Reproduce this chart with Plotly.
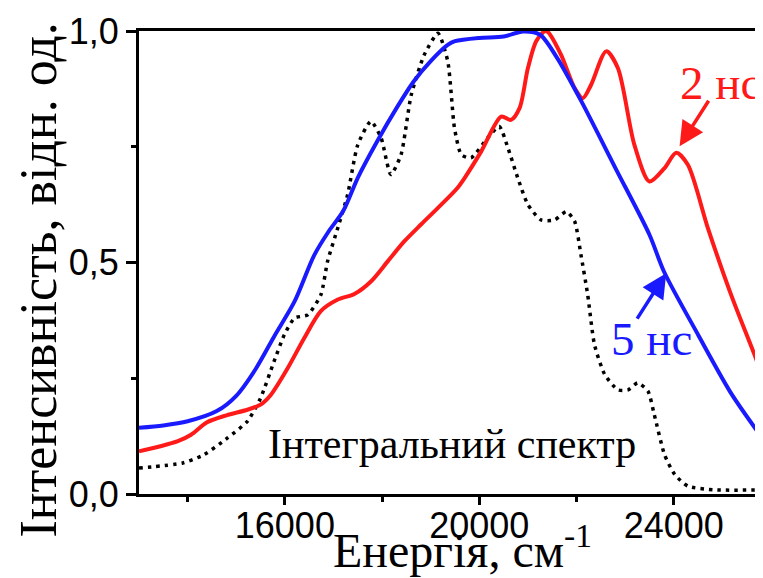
import plotly.graph_objects as go

# ---- data ----
x_5ns = [13000, 13500, 14000, 14600, 15000, 15400, 15800, 16200, 16600, 16900, 17200, 17500,
         17900, 18300, 18650, 19000, 19350, 19500, 20000, 20500, 20900, 21250, 21600, 22100,
         22800, 23500, 23800, 24500, 25200, 26000]
y_5ns = [0.143, 0.148, 0.157, 0.179, 0.212, 0.270, 0.344, 0.416, 0.515, 0.567, 0.611, 0.683,
         0.762, 0.834, 0.891, 0.935, 0.970, 0.978, 0.985, 0.988, 0.999, 0.992, 0.942, 0.848,
         0.704, 0.560, 0.480, 0.344, 0.214, 0.095]

x_2ns = [13000, 13400, 13800, 14070, 14400, 14800, 15230, 15500, 15710, 16060, 16400, 16740,
         17090, 17430, 17770, 18120, 18460, 18800, 19150, 19550, 19700, 20040, 20450, 20650,
         20830, 21000, 21170, 21350, 21410, 21680, 21960, 22130, 22300, 22610, 22850, 23190,
         23500, 23810, 24050, 24290, 24700, 25180, 25660, 26000]
y_2ns = [0.092, 0.102, 0.114, 0.128, 0.155, 0.170, 0.182, 0.193, 0.214, 0.272, 0.337, 0.395,
         0.420, 0.432, 0.459, 0.503, 0.546, 0.582, 0.618, 0.661, 0.683, 0.740, 0.815, 0.808,
         0.834, 0.920, 0.978, 1.000, 0.998, 0.949, 0.877, 0.855, 0.884, 0.956, 0.920, 0.754,
         0.675, 0.704, 0.737, 0.711, 0.575, 0.430, 0.301, 0.207]

x_int = [13000, 13900, 14340, 14820, 15230, 15500, 15780, 15990, 16200, 16470, 16740, 16880,
         17090, 17290, 17500, 17770, 17980, 18180, 18390, 18600, 18870, 19150, 19350, 19490,
         19630, 19830, 20170, 20410, 20590, 20790, 21000, 21270, 21550, 21790, 21960, 22090,
         22230, 22370, 22580, 22850, 23060, 23260, 23470, 23600, 23810, 24020, 24290, 24840,
         26000]
y_int = [0.056, 0.067, 0.085, 0.121, 0.157, 0.207, 0.287, 0.344, 0.380, 0.387, 0.430, 0.503,
         0.575, 0.646, 0.754, 0.805, 0.769, 0.690, 0.733, 0.862, 0.949, 0.995, 0.935, 0.790,
         0.733, 0.726, 0.769, 0.794, 0.747, 0.683, 0.625, 0.592, 0.592, 0.610, 0.589, 0.517,
         0.430, 0.322, 0.258, 0.225, 0.225, 0.240, 0.222, 0.171, 0.085, 0.042, 0.017, 0.009,
         0.009]

x_ticks = [16000, 20000, 24000]
x_ticktext = ["16000", "20000", "24000"]
x_minor = [14000, 18000, 22000]
y_ticks = [0.0, 0.5, 1.0]
y_ticktext = ["0,0", "0,5", "1,0"]
y_minor = [0.25, 0.75]

RED = "#ff1a1a"
BLUE = "#1a1aff"
SERIF = "Liberation Serif, Times New Roman, serif"
SANS = "Liberation Sans, Arial, sans-serif"

fig = go.Figure()
fig.add_trace(go.Scatter(x=x_int, y=y_int, mode="lines",
                         line=dict(color="black", width=3.5, dash="3.5px,5px", shape="spline", smoothing=0.6),
                         showlegend=False, hoverinfo="skip"))
fig.add_trace(go.Scatter(x=x_2ns, y=y_2ns, mode="lines",
                         line=dict(color=RED, width=4, shape="spline", smoothing=0.8),
                         showlegend=False, hoverinfo="skip"))
fig.add_trace(go.Scatter(x=x_5ns, y=y_5ns, mode="lines",
                         line=dict(color=BLUE, width=4, shape="spline", smoothing=0.8),
                         showlegend=False, hoverinfo="skip"))

fig.update_layout(
    width=763, height=578,
    margin=dict(l=131, r=0, t=23, b=92),
    paper_bgcolor="white", plot_bgcolor="white",
    showlegend=False,
)
fig.update_xaxes(
    range=[13000, 26000], showgrid=False, zeroline=False,
    showline=True, linecolor="black", linewidth=3, mirror=True,
    ticks="outside", ticklen=8, tickwidth=2.5, tickcolor="black",
    tickmode="array", tickvals=x_ticks, ticktext=x_ticktext,
    tickfont=dict(family=SANS, size=36, color="black"),
    ticklabelstandoff=-10,
    minor=dict(tickmode="array", tickvals=x_minor, ticks="outside", ticklen=5, tickwidth=2.5, tickcolor="black"),
)
fig.update_yaxes(
    range=[0, 1.0], showgrid=False, zeroline=False,
    showline=True, linecolor="black", linewidth=3, mirror=False,
    ticks="outside", ticklen=10, tickwidth=2.5, tickcolor="black",
    tickmode="array", tickvals=y_ticks, ticktext=y_ticktext,
    tickfont=dict(family=SANS, size=36, color="black"),
    minor=dict(tickmode="array", tickvals=y_minor, ticks="outside", ticklen=5, tickwidth=2.5, tickcolor="black"),
)

annotations = [
    # axis titles
    dict(text="Енергія, см<sup>-1</sup>", xref="paper", yref="paper", x=0.512, y=-0.183,
         xanchor="center", yanchor="bottom", showarrow=False,
         font=dict(family=SERIF, size=48, color="black")),
    dict(text="Інтенсивність, відн. од.", xref="paper", yref="paper", x=-0.159, y=0.462,
         xanchor="center", yanchor="middle", textangle=-90, showarrow=False,
         font=dict(family=SERIF, size=52, color="black")),
    # curve labels
    dict(text="2 нс", x=24970, y=0.888, xref="x", yref="y", showarrow=False,
         xanchor="center", yanchor="middle", font=dict(family=SERIF, size=47, color=RED)),
    dict(text="5 нс", x=23550, y=0.335, xref="x", yref="y", showarrow=False,
         xanchor="center", yanchor="middle", font=dict(family=SERIF, size=47, color=BLUE)),
    dict(text="Інтегральний спектр", x=19433, y=0.108, xref="x", yref="y", showarrow=False,
         xanchor="center", yanchor="middle", font=dict(family=SERIF, size=42, color="black")),
    # arrows
    dict(text="", x=24120, y=0.751, xref="x", yref="y", ax=30, ay=-47,
         showarrow=True, arrowhead=2, arrowsize=1.4, arrowwidth=3.5, arrowcolor=RED),
    dict(text="", x=23844, y=0.477, xref="x", yref="y", ax=-30, ay=47,
         showarrow=True, arrowhead=2, arrowsize=1.4, arrowwidth=3.5, arrowcolor=BLUE),
    # page number fragment at the top-right corner
    dict(text="32", xref="paper", yref="paper", x=0.975, y=1.03, xanchor="center", yanchor="bottom",
         showarrow=False, font=dict(family=SERIF, size=36, color="black")),
]
fig.update_layout(annotations=annotations)

fig.write_html("out.html")
